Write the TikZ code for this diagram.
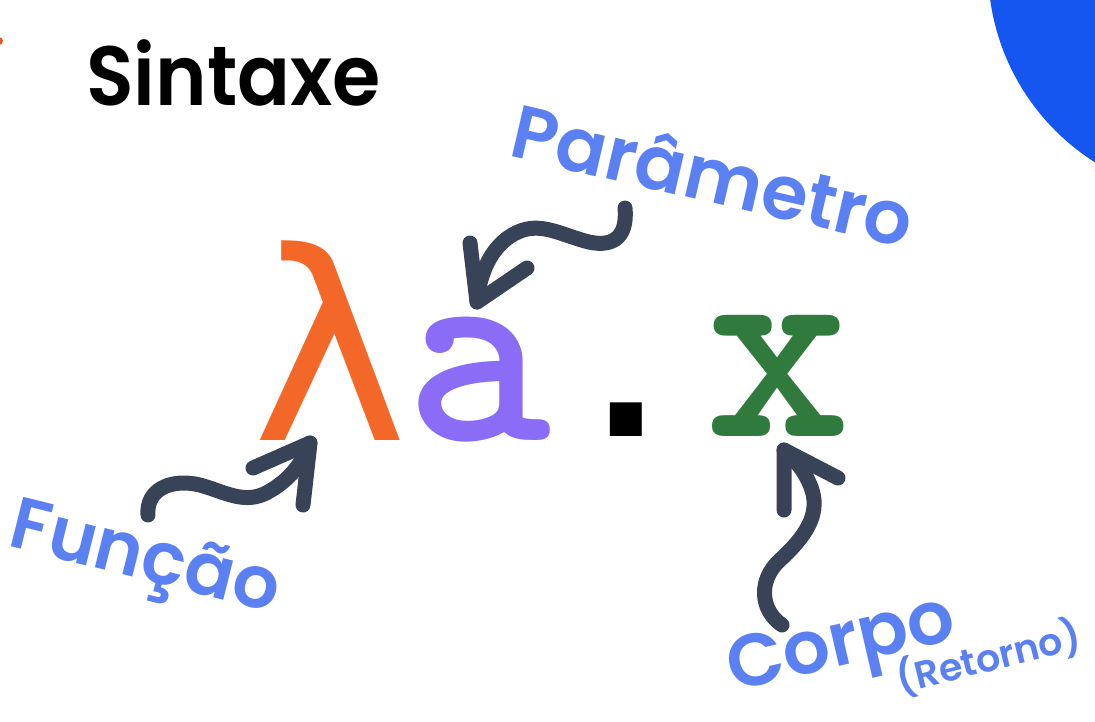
\documentclass[tikz,border=0pt]{standalone}
\usepackage{fontspec}
\newfontfamily\titlefont{Poppins}[BoldFont={Poppins SemiBold}, FakeStretch=0.93]
\newfontfamily\handfont{Poppins}[BoldFont={Poppins SemiBold}]
\newfontfamily\lambdafont{DejaVu Sans Mono}
\newfontfamily\stopfont{Liberation Mono}

\definecolor{discblue}{RGB}{22,86,240}
\definecolor{lambdaorange}{RGB}{243,104,40}
\definecolor{argpurple}{RGB}{138,108,246}
\definecolor{bodygreen}{RGB}{47,122,60}
\definecolor{inkgrey}{RGB}{57,67,88}
\definecolor{noteblue}{RGB}{90,128,242}
\definecolor{dotred}{RGB}{232,84,40}

\begin{document}
\begin{tikzpicture}[x=1pt,y=-1pt,
  glyph/.style={inner sep=0pt, anchor=base},
  code/.style={glyph, text height=120pt, text depth=0pt,
    font=\ttfamily\bfseries\fontsize{278}{278}\selectfont},
  note/.style={inner sep=0pt, anchor=base, text=noteblue},
  curl/.style={draw=inkgrey, line width=15pt, line cap=round, line join=round}]

\path[use as bounding box] (0,0) rectangle (1095,721);

\begin{scope}
  \clip (0,0) rectangle (1095,721);
  % decorative disc in the corner and a small mark at the left edge
  \fill[discblue] (1218,-32) circle[radius=230];
  \fill[dotred] (-1,41) circle[radius=4];
\end{scope}

% title
\node[glyph, anchor=base west, font=\titlefont\bfseries\fontsize{84}{84}\selectfont]
  (title) at (86,105) {Sintaxe};

% the lambda term
\node[glyph, text=lambdaorange, text height=200pt, text depth=0pt,
  font=\lambdafont\fontsize{263}{263}\selectfont] (lam) at (331,440) {λ};
\node[code, text=argpurple] (arg) at (478,440) {a};
\node[glyph, text=black, text height=40pt, text depth=0pt,
  font=\stopfont\bfseries\fontsize{226}{226}\selectfont] (dot) at (626,436) {.};
\node[code, text=bodygreen] (body) at (778,436) {x};

% handwritten notes
\node[note, rotate=-13, font=\handfont\bfseries\fontsize{75}{75}\selectfont]
  (parlab) at (707,202) {Parâmetro};
\node[note, rotate=-14, font=\handfont\bfseries\fontsize{73}{73}\selectfont]
  (funlab) at (140,579) {Função};
\node[note, rotate=13, font=\handfont\bfseries\fontsize{74}{74}\selectfont]
  (bodylab) at (846,665) {Corpo};
\node[note, rotate=14, font=\handfont\bfseries\fontsize{38}{38}\selectfont]
  (retlab) at (992,671) {(Retorno)};

% arrow ends
\coordinate (partail) at (625,208);
\coordinate (partip)  at (477,302);
\coordinate (funtail) at (148,515);
\coordinate (funtip)  at (310,443);
\coordinate (bodtail) at (782,625);
\coordinate (bodtip)  at (784,450);

% Parâmetro -> a
\draw[curl] (partail) .. controls (628,240) and (610,248) .. (585,241)
  .. controls (560,234) and (540,222) .. (518,232)
  .. controls (495,242) and (480,268) .. (partip);
\draw[curl] (470,243) -- (partip) -- (527,268);

% Função -> lambda
\draw[curl] (funtail) .. controls (146,490) and (170,478) .. (200,485)
  .. controls (225,492) and (245,505) .. (268,492)
  .. controls (290,480) and (303,462) .. (funtip);
\draw[curl] (253,468) -- (funtip) -- (303,505);

% Corpo -> x
\draw[curl] (bodtail) .. controls (760,610) and (758,580) .. (780,560)
  .. controls (805,537) and (820,515) .. (812,490)
  .. controls (806,472) and (795,460) .. (bodtip);
\draw[curl] (784,510) -- (bodtip) -- (838,478);

\end{tikzpicture}
\end{document}
